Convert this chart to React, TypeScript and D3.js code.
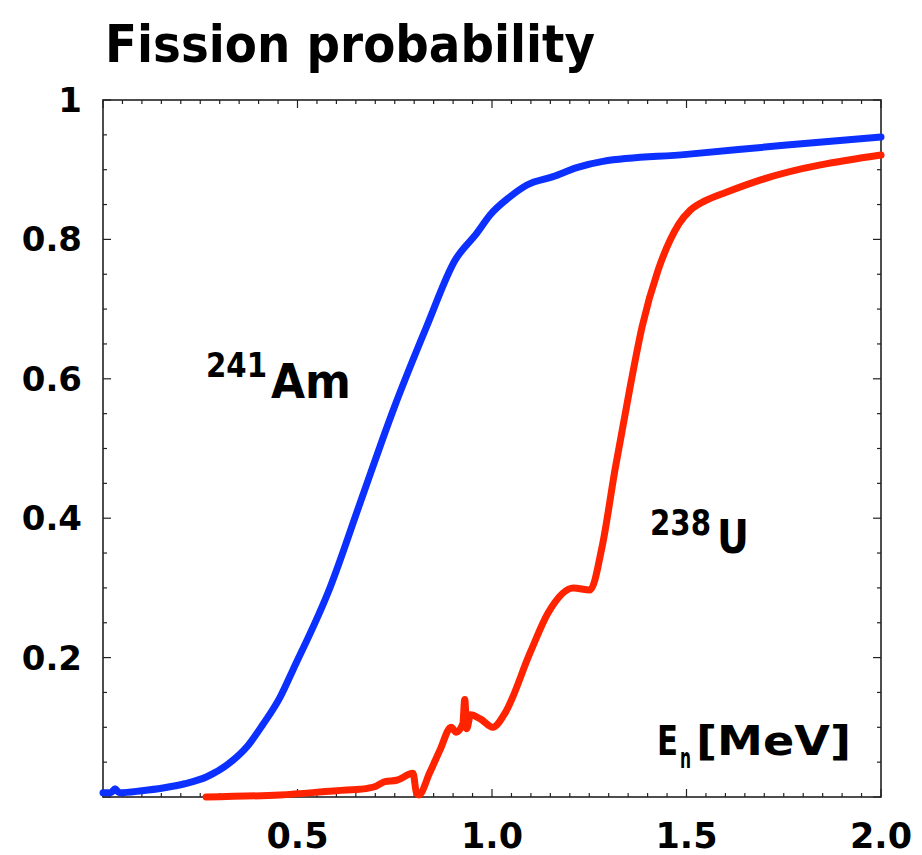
import React, { useRef, useEffect } from 'react'
import * as d3 from 'd3'

// 241Am fission probability
const amE = [0, 0.02, 0.031, 0.042, 0.1, 0.154, 0.21, 0.267, 0.326, 0.37, 0.411, 0.455, 0.488, 0.584, 0.661, 0.746, 0.832, 0.905, 0.961, 0.995, 1.046, 1.09, 1.157, 1.218, 1.285, 1.5, 1.75, 2.0]
const amP = [0.006, 0.006, 0.012, 0.006, 0.009, 0.013, 0.019, 0.029, 0.049, 0.072, 0.104, 0.143, 0.182, 0.301, 0.422, 0.555, 0.675, 0.77, 0.809, 0.835, 0.861, 0.878, 0.89, 0.903, 0.912, 0.922, 0.935, 0.947]

// 238U fission probability
const uE = [0.265, 0.455, 0.627, 0.66, 0.7, 0.716, 0.725, 0.755, 0.797, 0.806, 0.812, 0.84, 0.866, 0.895, 0.908, 0.925, 0.93, 0.935, 0.945, 0.97, 1.002, 1.033, 1.098, 1.144, 1.209, 1.252, 1.283, 1.316, 1.355, 1.386, 1.427, 1.458, 1.48, 1.51, 1.55, 1.604, 1.689, 2.0]
const uP = [0.0, 0.003, 0.01, 0.011, 0.015, 0.02, 0.022, 0.024, 0.034, 0.005, 0.003, 0.035, 0.067, 0.1, 0.093, 0.105, 0.14, 0.098, 0.118, 0.112, 0.1, 0.12, 0.207, 0.264, 0.3, 0.297, 0.359, 0.469, 0.588, 0.675, 0.756, 0.799, 0.822, 0.842, 0.856, 0.868, 0.885, 0.921]

const xTickLabels = ['0.5', '1.0', '1.5', '2.0']
const yTickLabels = ['0.2', '0.4', '0.6', '0.8', '1']

const App = () => {
    const ref = useRef<SVGSVGElement>(null)
    useEffect(() => {
        const svg = d3.select(ref.current)
        svg.selectAll('*').remove()
        const font = '"DejaVu Sans", sans-serif'

        const x = d3.scaleLinear().domain([0, 2]).range([103, 881])
        const y = d3.scaleLinear().domain([0, 1]).range([797, 100])

        // title
        svg.append('text')
            .attr('x', 105).attr('y', 62)
            .attr('font-family', font).attr('font-weight', 'bold')
            .attr('font-size', 52)
            .attr('textLength', 490).attr('lengthAdjust', 'spacingAndGlyphs')
            .text('Fission probability')

        // frame ticks (inward on all sides)
        const g = svg.append('g')
        d3.range(0, 2.0001, 0.05).forEach(v => {
            const major = Math.abs(v / 0.5 - Math.round(v / 0.5)) < 1e-6
            const len = major ? 8 : 4
            g.append('line').attr('x1', x(v)).attr('x2', x(v)).attr('y1', y(0)).attr('y2', y(0) - len)
                .attr('stroke', '#222').attr('stroke-width', 1.2)
            g.append('line').attr('x1', x(v)).attr('x2', x(v)).attr('y1', y(1)).attr('y2', y(1) + len)
                .attr('stroke', '#222').attr('stroke-width', 1.2)
        })
        d3.range(0, 1.0001, 0.05).forEach(v => {
            const major = Math.abs(v / 0.2 - Math.round(v / 0.2)) < 1e-6
            const len = major ? 8 : 4
            g.append('line').attr('y1', y(v)).attr('y2', y(v)).attr('x1', x(0)).attr('x2', x(0) + len)
                .attr('stroke', '#222').attr('stroke-width', 1.2)
            g.append('line').attr('y1', y(v)).attr('y2', y(v)).attr('x1', x(2)).attr('x2', x(2) - len)
                .attr('stroke', '#222').attr('stroke-width', 1.2)
        })
        g.append('rect')
            .attr('x', x(0)).attr('y', y(1))
            .attr('width', x(2) - x(0)).attr('height', y(0) - y(1))
            .attr('fill', 'none').attr('stroke', '#222').attr('stroke-width', 1.6)

        // tick labels
        svg.selectAll('.xl').data(xTickLabels).join('text')
            .attr('class', 'xl')
            .attr('x', d => x(+d)).attr('y', 848)
            .attr('text-anchor', 'middle')
            .attr('font-family', font).attr('font-weight', 'bold').attr('font-size', 35)
            .text(d => d)
        svg.selectAll('.yl').data(yTickLabels).join('text')
            .attr('class', 'yl')
            .attr('x', 82).attr('y', d => y(+d) + 12)
            .attr('text-anchor', 'end')
            .attr('font-family', font).attr('font-weight', 'bold').attr('font-size', 34)
            .text(d => d)

        // curves
        const line = d3.line<[number, number]>()
            .x(d => x(d[0]))
            .y(d => y(d[1]))
            .curve(d3.curveMonotoneX)
        const plot = svg.append('g')
        plot.append('path')
            .attr('d', line(uE.map((e, i) => [e, uP[i]])))
            .attr('fill', 'none').attr('stroke', '#ff2300').attr('stroke-width', 7)
            .attr('stroke-linejoin', 'round').attr('stroke-linecap', 'round')
        plot.append('path')
            .attr('d', line(amE.map((e, i) => [e, amP[i]])))
            .attr('fill', 'none').attr('stroke', '#0b30ff').attr('stroke-width', 7)
            .attr('stroke-linejoin', 'round').attr('stroke-linecap', 'round')

        // series labels
        const lab = (px: number, py: number, size: number, len: number, t: string) =>
            svg.append('text').attr('x', px).attr('y', py)
                .attr('font-family', font).attr('font-weight', 'bold').attr('font-size', size)
                .attr('textLength', len).attr('lengthAdjust', 'spacingAndGlyphs')
                .text(t)
        lab(206, 377, 33, 61, '241')
        lab(271, 398, 48, 80, 'Am')
        lab(650, 535, 35, 61, '238')
        lab(717, 553, 47, 32, 'U')

        // axis label, one text with a subscript
        const ax = svg.append('text')
            .attr('font-family', font).attr('font-weight', 'bold')
        ax.append('tspan').attr('x', 657).attr('y', 755).attr('font-size', 41)
            .attr('textLength', 21).attr('lengthAdjust', 'spacingAndGlyphs').text('E')
        ax.append('tspan').attr('x', 680).attr('y', 768).attr('font-size', 28)
            .attr('textLength', 11).attr('lengthAdjust', 'spacingAndGlyphs').text('n')
        ax.append('tspan').attr('x', 696).attr('y', 755).attr('font-size', 41)
            .attr('textLength', 155).attr('lengthAdjust', 'spacingAndGlyphs').text('[MeV]')
    }, [])
    return (
        <svg ref={ref} width={922} height={855}
            style={{ position: 'absolute', left: 0, top: 0, background: 'white' }} />
    )
}

export default App
